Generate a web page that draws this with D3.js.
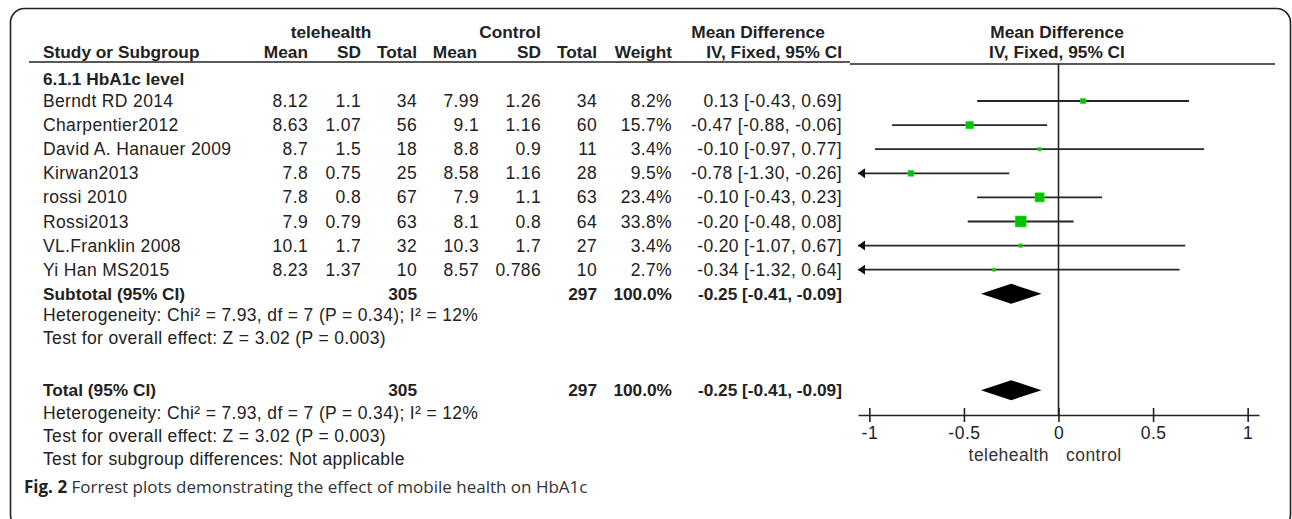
<!DOCTYPE html>
<html>
<head>
<meta charset="utf-8">
<script src="https://cdn.jsdelivr.net/npm/d3@7"></script>
<style>
  body { margin: 0; background: #fff; }
  text { font-family: "Liberation Sans", Arial, sans-serif; fill: #222; }
</style>
</head>
<body>
<div id="forest"></div>
<script>
// study data
var studies = ["Berndt RD 2014", "Charpentier2012", "David A. Hanauer 2009", "Kirwan2013",
               "rossi 2010", "Rossi2013", "VL.Franklin 2008", "Yi Han MS2015"];
var teleMean = [8.12, 8.63, 8.7, 7.8, 7.8, 7.9, 10.1, 8.23];
var teleSD   = [1.1, 1.07, 1.5, 0.75, 0.8, 0.79, 1.7, 1.37];
var teleN    = [34, 56, 18, 25, 67, 63, 32, 10];
var ctrlMean = [7.99, 9.1, 8.8, 8.58, 7.9, 8.1, 10.3, 8.57];
var ctrlSD   = [1.26, 1.16, 0.9, 1.16, 1.1, 0.8, 1.7, 0.786];
var ctrlN    = [34, 60, 11, 28, 63, 64, 27, 10];
var weights  = [8.2, 15.7, 3.4, 9.5, 23.4, 33.8, 3.4, 2.7];
var md       = [0.13, -0.47, -0.10, -0.78, -0.10, -0.20, -0.20, -0.34];
var ciLow    = [-0.43, -0.88, -0.97, -1.30, -0.43, -0.48, -1.07, -1.32];
var ciHigh   = [0.69, -0.06, 0.77, -0.26, 0.23, 0.08, 0.67, 0.64];

// pooled estimate [md, low, high] and group totals
var pooled = [-0.25, -0.41, -0.09];
var totals = [305, 297];
var tickValues = [-1, -0.5, 0, 0.5, 1];
var tickLabels = ["-1", "-0.5", "0", "0.5", "1"];
var hetText = "Heterogeneity: Chi\u00b2 = 7.93, df = 7 (P = 0.34); I\u00b2 = 12%";
var overallText = "Test for overall effect: Z = 3.02 (P = 0.003)";
var subgroupText = "Test for subgroup differences: Not applicable";

var width = 1292, height = 519;
var fs = 17.3;

var svg = d3.select("#forest")
  .append("svg")
    .attr("width", width)
    .attr("height", height);

// frame round everything
svg.append("rect")
  .attr("x", 10.5).attr("y", 8.5)
  .attr("width", 1280).attr("height", 520)
  .attr("rx", 14)
  .attr("fill", "none")
  .attr("stroke", "#222")
  .attr("stroke-width", 1.6);

// row index -> y
var y = d3.scaleLinear().domain([0, 1]).range([101, 125.1]);

// x scale of the plot
var x = d3.scaleLinear().domain([-1.06, 1.06]).range([858, 1259]);
var xMin = -1.06;

// column positions (right edges, except study)
var col = { study: 43, tMean: 308, tSD: 361, tN: 417, cMean: 479, cSD: 541, cN: 597, w: 672, ci: 842 };

function txt(s, xx, yy, anchor, bold) {
  return svg.append("text")
    .attr("x", xx)
    .attr("y", yy)
    .attr("text-anchor", anchor || "start")
    .style("font-size", (bold ? fs : 17.5) + "px")
    .style("letter-spacing", bold ? "0px" : "0.35px")
    .style("font-weight", bold ? "bold" : "normal")
    .text(s);
}

// headers
txt("telehealth", 331, 38, "middle", true);
txt("Control", 510, 38, "middle", true);
txt("Mean Difference", 758, 38, "middle", true);
txt("Mean Difference", 1057, 38, "middle", true);

txt("Study or Subgroup", col.study, 58, "start", true);
txt("Mean", col.tMean, 58, "end", true);
txt("SD", col.tSD, 58, "end", true);
txt("Total", col.tN, 58, "end", true);
txt("Mean", col.cMean - 2, 58, "end", true);
txt("SD", col.cSD, 58, "end", true);
txt("Total", col.cN, 58, "end", true);
txt("Weight", col.w, 58, "end", true);
txt("IV, Fixed, 95% CI", col.ci, 58, "end", true);
txt("IV, Fixed, 95% CI", 1057, 58, "middle", true);

svg.append("line")
  .attr("x1", 29).attr("x2", 850).attr("y1", 62).attr("y2", 62)
  .attr("stroke", "#222").attr("stroke-width", 1.6);
svg.append("line")
  .attr("x1", 850).attr("x2", 1275).attr("y1", 64).attr("y2", 64)
  .attr("stroke", "#222").attr("stroke-width", 1.6);

txt("6.1.1 HbA1c level", col.study, y(-0.9) + 6, "start", true);

// study rows
var fmtCI = function(m, l, h) {
  return m.toFixed(2) + " [" + l.toFixed(2) + ", " + h.toFixed(2) + "]";
};
studies.forEach(function(s, i) {
  var yy = y(i) + 6;
  txt(s, col.study, yy);
  txt(teleMean[i], col.tMean, yy, "end");
  txt(teleSD[i], col.tSD, yy, "end");
  txt(teleN[i], col.tN, yy, "end");
  txt(ctrlMean[i], col.cMean, yy, "end");
  txt(ctrlSD[i], col.cSD, yy, "end");
  txt(ctrlN[i], col.cN, yy, "end");
  txt(weights[i].toFixed(1) + "%", col.w, yy, "end");
  txt(fmtCI(md[i], ciLow[i], ciHigh[i]), col.ci, yy, "end");
});

// subtotal / total rows
[8, 12].forEach(function(r, k) {
  var yy = y(r) + 6;
  txt(k == 0 ? "Subtotal (95% CI)" : "Total (95% CI)", col.study, yy, "start", true);
  txt(totals[0], col.tN, yy, "end", true);
  txt(totals[1], col.cN, yy, "end", true);
  txt("100.0%", col.w, yy, "end", true);
  txt(fmtCI(pooled[0], pooled[1], pooled[2]), col.ci, yy, "end", true);
});
txt(hetText, col.study, y(8.9) + 6);
txt(overallText, col.study, y(9.85) + 6);
txt(hetText, col.study, y(12.95) + 6);
txt(overallText, col.study, y(13.9) + 6);
txt(subgroupText, col.study, y(14.85) + 6);

// zero line
svg.append("line")
  .attr("x1", x(0)).attr("x2", x(0))
  .attr("y1", 64).attr("y2", 415)
  .attr("stroke", "#222").attr("stroke-width", 1.6);

// CI lines
var plot = svg.append("g");
studies.forEach(function(s, i) {
  var l = Math.max(ciLow[i], xMin);
  plot.append("line")
    .attr("x1", x(l)).attr("x2", x(ciHigh[i]))
    .attr("y1", y(i)).attr("y2", y(i))
    .attr("stroke", "#262626").attr("stroke-width", 1.8);
  if (ciLow[i] < xMin) {
    // arrow head when the CI runs off the left side
    var ax = x(xMin), ay = y(i);
    plot.append("path")
      .attr("d", "M" + ax + "," + ay + "L" + (ax + 7) + "," + (ay - 5) + "L" + (ax + 7) + "," + (ay + 5) + "Z")
      .attr("fill", "#111");
  }
});

// squares sized by weight
var size = d3.scaleSqrt().domain([0, d3.max(weights)]).range([0, 11]);
studies.forEach(function(s, i) {
  var sz = Math.max(size(weights[i]), 3);
  plot.append("rect")
    .attr("x", x(md[i]) - sz / 2)
    .attr("y", y(i) - sz / 2)
    .attr("width", sz)
    .attr("height", sz)
    .attr("fill", "#00c400")
    .attr("stroke", "#3ee03e")
    .attr("stroke-width", 0.6);
});

// diamonds
[8, 12].forEach(function(r) {
  var cy = y(r), h = 10;
  plot.append("path")
    .attr("d", "M" + x(pooled[1]) + "," + cy +
               "L" + x(pooled[0]) + "," + (cy - h) +
               "L" + x(pooled[2]) + "," + cy +
               "L" + x(pooled[0]) + "," + (cy + h) + "Z")
    .attr("fill", "#000");
});

// axis
var axis = svg.append("g")
  .attr("transform", "translate(0,415)")
  .call(d3.axisBottom(x)
    .tickValues(tickValues)
    .tickFormat(function(d, i) { return tickLabels[i]; })
    .tickSizeOuter(0));
axis.select(".domain").attr("stroke", "#222").attr("stroke-width", 1.6);
axis.selectAll(".tick line")
  .attr("y1", -7).attr("y2", 7)
  .attr("stroke", "#222").attr("stroke-width", 1.6);
axis.selectAll(".tick text")
  .attr("y", 12)
  .attr("dy", "0.71em")
  .style("font-family", "'Liberation Sans', Arial, sans-serif")
  .style("font-size", "17.5px")
  .style("letter-spacing", "0.5px")
  .attr("fill", "#333");

svg.append("text")
  .attr("x", 1049).attr("y", 461)
  .attr("text-anchor", "end")
  .style("font-size", "17.5px")
  .style("letter-spacing", "0.45px")
  .style("fill", "#333")
  .text("telehealth");
svg.append("text")
  .attr("x", 1066).attr("y", 461)
  .style("font-size", "17.5px")
  .style("letter-spacing", "0.45px")
  .style("fill", "#333")
  .text("control");

// caption
var cap = svg.append("text")
  .attr("x", 24).attr("y", 493)
  .style("font-family", "'Open Sans', sans-serif")
  .style("font-size", "17px");
cap.append("tspan").style("font-weight", "bold").style("fill", "#222").text("Fig. 2");
cap.append("tspan").style("fill", "#333").text(" Forrest plots demonstrating the effect of mobile health on HbA1c");
</script>
</body>
</html>
